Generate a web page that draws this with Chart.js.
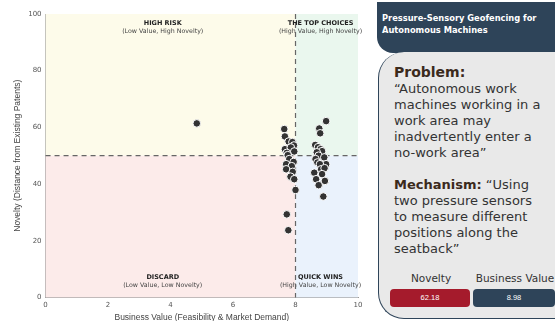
<!DOCTYPE html>
<html>
<head>
<meta charset="utf-8">
<script src="https://cdn.jsdelivr.net/npm/chart.js@4.4.0/dist/chart.umd.min.js"></script>
<style>
  body { margin: 0; width: 555px; height: 321px; overflow: hidden; background: #fff; font-family: "DejaVu Sans", Verdana, sans-serif; position: relative; }
  #chartBox { position: absolute; left: 0; top: 0; width: 372px; height: 325px; }
  #header { position: absolute; left: 377px; top: 2px; width: 190px; height: 51px; background: #2e4459; border-bottom-left-radius: 16px; color: #fff; font-weight: bold; font-size: 8.3px; line-height: 12px; padding: 10px 0 0 5px; box-sizing: border-box; }
  #card { position: absolute; left: 378px; top: 52px; width: 200px; height: 267px; background: #e9e9e9; border-left: 1.5px solid #2e4459; border-bottom: 1.5px solid #2e4459; border-top-left-radius: 26px; border-bottom-left-radius: 26px; box-sizing: border-box; padding: 12px 0 0 15px; font-size: 13px; line-height: 16px; color: #333; }
  .txt { width: 150px; }
  #card b { color: #3b2a1c; }
  .para { margin-bottom: 16px; }
  #scores { position: absolute; left: 12px; top: 218px; width: 200px; }
  .lbl { position: absolute; top: 0; font-size: 10.5px; color: #333; text-align: center; }
  .box { position: absolute; top: 19px; height: 18px; border-radius: 4px; color: #fff; font-size: 7.5px; text-align: center; line-height: 18px; font-family: "Liberation Sans", Arial, sans-serif; }
</style>
</head>
<body>
<div id="chartBox"><canvas id="c"></canvas></div>
<div id="header">Pressure-Sensory Geofencing for<br>Autonomous Machines</div>
<div id="card">
  <div class="txt">
  <div class="para"><b style="font-size:14px">Problem:</b><br>“Autonomous work machines working in a work area may inadvertently enter a no-work area”</div>
  <div class="para"><b>Mechanism:</b> “Using two pressure sensors to measure different positions along the seatback”</div>
  </div>
  <div id="scores">
    <div class="lbl" style="left:0;width:80px">Novelty</div>
    <div class="lbl" style="left:83px;width:82px">Business Value</div>
    <div class="box" style="left:-1px;width:80px;background:#a51b2c">62.18</div>
    <div class="box" style="left:82px;width:82px;background:#2e4459">8.98</div>
  </div>
</div>
<script>
// --- DATA ---
const businessValue = [4.84, 7.64, 7.66, 7.78, 7.90, 7.95, 7.66, 7.85, 7.72, 7.96, 7.75, 7.80, 7.94, 7.70, 7.88, 7.70, 7.91, 7.84, 7.96, 8.00, 7.72, 7.77,
  8.98, 8.76, 8.79, 8.63, 8.72, 8.80, 8.85, 8.68, 8.74, 8.64, 8.92, 8.70, 8.98, 8.78, 8.82, 8.93, 8.60, 8.85, 8.66, 8.94, 8.74, 8.89];
const novelty = [61.4, 59.4, 56.8, 55.0, 54.8, 53.6, 52.3, 52.9, 51.0, 51.5, 50.2, 48.8, 47.8, 47.0, 46.3, 45.2, 44.3, 42.6, 41.7, 37.9, 29.3, 23.7,
  62.2, 59.6, 57.9, 53.8, 53.0, 52.3, 51.6, 51.2, 50.0, 48.8, 49.4, 47.6, 47.0, 47.0, 45.2, 45.6, 44.0, 43.5, 41.7, 41.1, 39.6, 35.6];
const xThreshold = 8;
const yThreshold = 50;
const quadrantTitles = ['HIGH RISK', 'THE TOP CHOICES', 'DISCARD', 'QUICK WINS'];
const quadrantSubs = ['(Low Value, High Novelty)', '(High Value, High Novelty)', '(Low Value, Low Novelty)', '(High Value, Low Novelty)'];
const quadrantColors = ['#fdfbea', '#eaf7ee', '#fcebea', '#eaf2fc'];

const points = businessValue.map((x, i) => ({ x: x, y: novelty[i] }));

// quadrants in background, dashed lines, labels
const quadrantPlugin = {
  id: 'quadrants',
  beforeDatasetsDraw(chart) {
    const { ctx, chartArea: a, scales: { x, y } } = chart;
    const mx = x.getPixelForValue(xThreshold);
    const my = y.getPixelForValue(yThreshold);
    ctx.save();
    ctx.fillStyle = quadrantColors[0]; ctx.fillRect(a.left, a.top, mx - a.left, my - a.top);
    ctx.fillStyle = quadrantColors[1]; ctx.fillRect(mx, a.top, a.right - mx, my - a.top);
    ctx.fillStyle = quadrantColors[2]; ctx.fillRect(a.left, my, mx - a.left, a.bottom - my);
    ctx.fillStyle = quadrantColors[3]; ctx.fillRect(mx, my, a.right - mx, a.bottom - my);

    // labels
    ctx.textAlign = 'center';
    const lx = [x.getPixelForValue(3.75), x.getPixelForValue(8.8)];
    const ty = [a.top + 11, a.bottom - 18];
    for (let i = 0; i < 4; i++) {
      const px = lx[i % 2], py = ty[Math.floor(i / 2)];
      ctx.font = 'bold 6.5px "DejaVu Sans", Verdana, sans-serif';
      ctx.fillStyle = '#222';
      ctx.fillText(quadrantTitles[i], px, py);
      ctx.font = '6.3px "DejaVu Sans", Verdana, sans-serif';
      ctx.fillStyle = '#444';
      ctx.fillText(quadrantSubs[i], px, py + 8);
    }

    ctx.strokeStyle = '#666';
    ctx.lineWidth = 1.2;
    ctx.setLineDash([5, 4]);
    ctx.beginPath();
    ctx.moveTo(mx, a.top); ctx.lineTo(mx, a.bottom);
    ctx.moveTo(a.left, my); ctx.lineTo(a.right, my);
    ctx.stroke();
    ctx.restore();
  }
};

new Chart(document.getElementById('c'), {
  type: 'scatter',
  data: {
    datasets: [{
      data: points,
      backgroundColor: '#333333',
      borderColor: '#ffffff',
      borderWidth: 1,
      pointRadius: 3.8
    }]
  },
  options: {
    responsive: true,
    maintainAspectRatio: false,
    animation: false,
    layout: { padding: { top: 14, right: 14, left: 9 } },
    plugins: { legend: { display: false }, tooltip: { enabled: false } },
    scales: {
      x: {
        min: 0, max: 10,
        ticks: { stepSize: 2, color: '#555', font: { size: 7, family: '"DejaVu Sans", Verdana, sans-serif' }, padding: 1 },
        grid: { display: false, drawTicks: true, tickLength: 3 },
        border: { color: '#999' },
        title: { display: true, text: 'Business Value (Feasibility & Market Demand)', color: '#444', padding: { top: 2, bottom: 2 }, font: { size: 8.5, family: '"Liberation Sans", Arial, sans-serif' } }
      },
      y: {
        min: 0, max: 100,
        ticks: { stepSize: 20, color: '#555', font: { size: 7, family: '"DejaVu Sans", Verdana, sans-serif' }, padding: 1 },
        grid: { display: false, tickLength: 3 },
        border: { color: '#999' },
        title: { display: true, text: 'Novelty (Distance from Existing Patents)', color: '#444', font: { size: 8.5, family: '"Liberation Sans", Arial, sans-serif' } }
      }
    }
  },
  plugins: [quadrantPlugin]
});
</script>
</body>
</html>
